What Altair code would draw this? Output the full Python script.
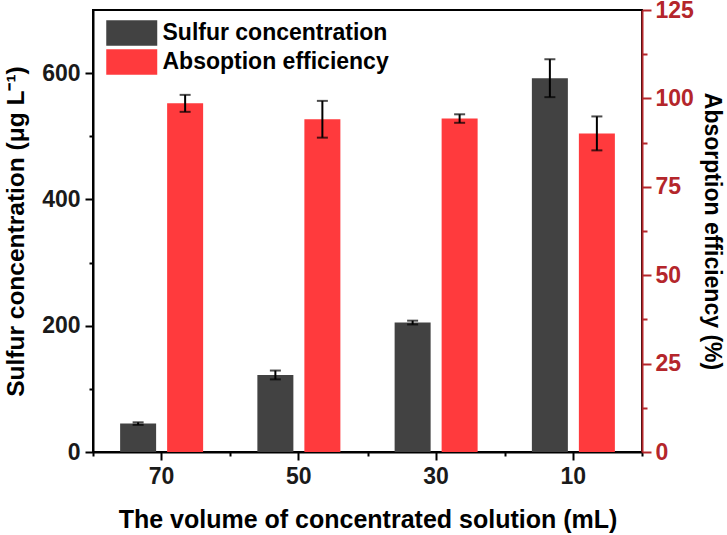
import altair as alt
import pandas as pd

volumes = ["70", "50", "30", "10"]
sulfur = [45, 122, 205, 592]
sulfur_err = [2, 7, 3, 30]
absorb = [98.6, 94.1, 94.3, 90.1]
absorb_err = [2.4, 5.2, 1.2, 4.8]
series_names = ["Sulfur concentration", "Absoption efficiency"]
series_colors = ["#424242", "#ff3a3d"]
axis_red = "#b4262b"
left_major = [0, 200, 400, 600]
left_minor = [100, 300, 500]
right_major = [0, 25, 50, 75, 100, 125]
right_minor = [12.5, 37.5, 62.5, 87.5, 112.5]

rows = []
for v, s, se, a, ae in zip(volumes, sulfur, sulfur_err, absorb, absorb_err):
    rows.append({"volume": v, "series": series_names[0], "value": s, "lo": s - se, "hi": s + se})
    rows.append({"volume": v, "series": series_names[1], "value": a, "lo": a - ae, "hi": a + ae})
df = pd.DataFrame(rows)

FONT = "Liberation Sans"
FS = 23

x_scale = alt.Scale(paddingInner=0, paddingOuter=0)
x_main = alt.X("volume:N", sort=volumes, scale=x_scale,
               axis=alt.Axis(title="The volume of concentrated solution (mL)", labelAngle=0,
                             tickSize=8, labelPadding=5, titlePadding=19, titleFontSize=25))
x_minor = alt.X("volume:N", sort=volumes, scale=x_scale,
                axis=alt.Axis(title=None, labels=False, tickBand="extent", tickSize=4,
                              domain=False, orient="bottom"))
x_none = alt.X("volume:N", sort=volumes, scale=x_scale, axis=None)

xoff = alt.XOffset("series:N", sort=series_names,
                   scale=alt.Scale(domain=series_names, paddingInner=0, paddingOuter=0.46))

color = alt.Color("series:N", sort=series_names,
                  scale=alt.Scale(domain=series_names, range=series_colors),
                  legend=alt.Legend(title=None, orient="none", legendX=25.75, legendY=10,
                                    symbolType="M-2,-1H2V1H-2Z", symbolSize=650,
                                    symbolStrokeWidth=0, symbolOpacity=1,
                                    labelFontSize=FS, labelFontWeight="bold", labelFont=FONT,
                                    labelColor="black", labelOffset=17.75, rowPadding=3,
                                    labelLimit=400))

y_left_scale = alt.Scale(domain=[0, 700], nice=False)
y_right_scale = alt.Scale(domain=[0, 125], nice=False)

y_left = alt.Y("value:Q", scale=y_left_scale,
               axis=alt.Axis(title="Sulfur concentration (μg L⁻¹)", orient="left",
                             values=left_major, tickSize=8, titleFontSize=24.5,
                             labelPadding=5, titlePadding=13, grid=False))
y_left_minor = alt.Y("lo:Q", scale=y_left_scale,
                     axis=alt.Axis(title=None, orient="left", values=left_minor, tickSize=4,
                                   labels=False, domain=False, grid=False))
y_right = alt.Y("value:Q", scale=y_right_scale,
                axis=alt.Axis(title="Absorption efficiency (%)", orient="right",
                              values=right_major, tickSize=9,
                              domainColor=axis_red, tickColor=axis_red, labelColor=axis_red,
                              labelPadding=4, titlePadding=6, grid=False))
y_right_minor = alt.Y("lo:Q", scale=y_right_scale,
                      axis=alt.Axis(title=None, orient="right", values=right_minor, tickSize=5,
                                    tickColor=axis_red, labels=False, domain=False, grid=False))

s_data = alt.Chart(df).transform_filter(alt.datum.series == series_names[0])
a_data = alt.Chart(df).transform_filter(alt.datum.series == series_names[1])

s_bars = s_data.mark_bar(size=36).encode(x=x_main, xOffset=xoff, y=y_left, color=color)
s_rule = s_data.mark_rule(color="black", strokeWidth=2).encode(
    x=x_none, xOffset=xoff, y=y_left_minor, y2="hi:Q")
s_caps_hi = s_data.mark_tick(color="black", size=11, thickness=2).encode(
    x=x_minor, xOffset=xoff, y=alt.Y("hi:Q", scale=y_left_scale, axis=None))
s_caps_lo = s_data.mark_tick(color="black", size=11, thickness=2).encode(
    x=x_none, xOffset=xoff, y=alt.Y("lo:Q", scale=y_left_scale, axis=None))
left = alt.layer(s_bars, s_rule, s_caps_hi, s_caps_lo).resolve_axis(x="independent", y="independent")

a_bars = a_data.mark_bar(size=36).encode(x=x_none, xOffset=xoff, y=y_right, color=color)
a_rule = a_data.mark_rule(color="black", strokeWidth=2).encode(
    x=x_none, xOffset=xoff, y=y_right_minor, y2="hi:Q")
a_caps_hi = a_data.mark_tick(color="black", size=11, thickness=2).encode(
    x=x_none, xOffset=xoff, y=alt.Y("hi:Q", scale=y_right_scale, axis=None))
a_caps_lo = a_data.mark_tick(color="black", size=11, thickness=2).encode(
    x=x_none, xOffset=xoff, y=alt.Y("lo:Q", scale=y_right_scale, axis=None))
right = alt.layer(a_bars, a_rule, a_caps_hi, a_caps_lo).resolve_axis(y="independent")

chart = alt.layer(left, right).resolve_scale(y="independent").resolve_axis(
    y="independent"
).properties(
    width=549, height=442,
    background="white",
    autosize=alt.AutoSizeParams(type="none"),
    padding={"left": 93, "top": 10, "right": 85, "bottom": 83},
).configure_view(
    stroke="black", strokeWidth=2
).configure_axis(
    domainColor="black", domainWidth=2, tickColor="black", tickWidth=2,
    labelFont=FONT, labelFontSize=FS, labelFontWeight="bold", labelColor="#1a1a1a",
    titleFont=FONT, titleFontSize=FS, titleFontWeight="bold", titleColor="black",
)

chart.save("out.html", embed_options={"renderer": "svg", "actions": False})
